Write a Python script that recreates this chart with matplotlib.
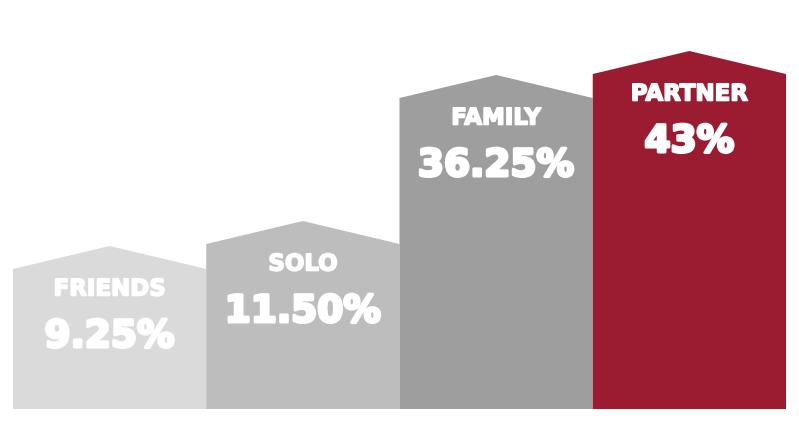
import matplotlib.pyplot as plt
import matplotlib.patheffects as pe
from matplotlib.patches import Polygon

# Chart data
categories = ['FRIENDS', 'SOLO', 'FAMILY', 'PARTNER']
values = ['9.25%', '11.50%', '36.25%', '43%']
heights = [140, 165, 311, 335]       # displayed bar heights (not to scale)
roof = 23                             # rise of the house roof
colors = ['#dadada', '#bdbdbd', '#9e9e9e', '#9b1b30']

fig = plt.figure(figsize=(7.99, 4.27), dpi=100)
ax = fig.add_axes([0, 0, 1, 1])

for i, (cat, val, h, c) in enumerate(zip(categories, values, heights, colors)):
    x0, x1 = i - 0.5, i + 0.5
    pts = [(x0, 0), (x0, h), (i, h + roof), (x1, h), (x1, 0)]
    ax.add_patch(Polygon(pts, closed=True, facecolor=c, edgecolor='none'))
    ax.text(i, h - 20, cat, ha='center', va='center', color='white',
            fontsize=16.5, fontweight='bold', family='DejaVu Sans',
            path_effects=[pe.withStroke(linewidth=1.2, foreground='white')])
    ax.text(i, h - 68, val, ha='center', va='center', color='white',
            fontsize=27, fontweight='bold', family='DejaVu Sans',
            path_effects=[pe.withStroke(linewidth=2.2, foreground='white')])

pad = 13 / 193.25
ax.set_xlim(-0.5 - pad, 3.5 + pad)
ax.set_ylim(-17, 410)
ax.axis('off')

plt.savefig('out.png', dpi=100)
